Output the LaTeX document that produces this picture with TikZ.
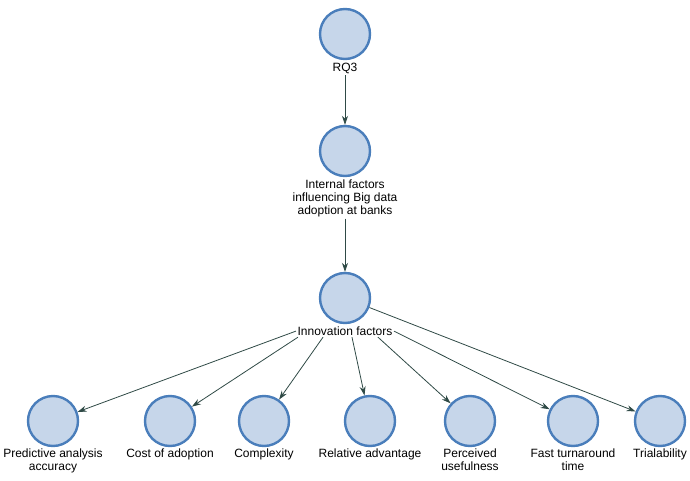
\documentclass[tikz,border=0pt]{standalone}
\usepackage{fontspec}
\setmainfont{Liberation Sans}
\usetikzlibrary{arrows.meta}
\definecolor{cfill}{HTML}{C6D6EA}
\definecolor{cedge}{HTML}{4A7EBB}
\definecolor{lcol}{HTML}{2F4A46}
\tikzset{
  bub/.style={circle, draw=cedge, fill=cfill, line width=2.4pt, minimum size=50pt, inner sep=0pt},
  lab/.style={font=\fontsize{12}{13}\selectfont, align=center, inner sep=1.5pt, anchor=north},
  conn/.style={draw=lcol, line width=0.8pt, -{Stealth[length=9pt,width=6pt]}}
}
\begin{document}
\begin{tikzpicture}[x=1pt,y=-1pt]
\useasboundingbox (0,0) rectangle (690,481);
\node[bub] (rq) at (345,34) {};
\node[lab] (rql) at (345,61) {RQ3};
\node[bub] (inf) at (345,151) {};
\node[lab] (infl) at (345,178) {Internal factors\\influencing Big data\\adoption at banks};
\node[bub] (inn) at (345,298) {};
\node[lab] (innl) at (345,325) {Innovation factors};

\node[bub] (c1) at (53,421) {};
\node[lab] (c1l) at (53,447) {Predictive analysis\\accuracy};
\node[bub] (c2) at (170,421) {};
\node[lab] (c2l) at (170,447) {Cost of adoption};
\node[bub] (c3) at (264,421) {};
\node[lab] (c3l) at (264,447) {Complexity};
\node[bub] (c4) at (370,421) {};
\node[lab] (c4l) at (370,447) {Relative advantage};
\node[bub] (c5) at (470,421) {};
\node[lab] (c5l) at (470,447) {Perceived\\usefulness};
\node[bub] (c6) at (573,421) {};
\node[lab] (c6l) at (573,447) {Fast turnaround\\time};
\node[bub] (c7) at (660,421) {};
\node[lab] (c7l) at (660,447) {Trialability};

\draw[conn] (rql) -- (inf);
\draw[conn] (infl) -- (inn);
\draw[conn] (innl.west) -- (c1);
\draw[conn] ([xshift=2pt]innl.south west) -- (c2);
\draw[conn] ([xshift=-22pt]innl.south) -- (c3);
\draw[conn] ([xshift=7pt]innl.south) -- (c4);
\draw[conn] ([xshift=33pt]innl.south) -- (c5);
\draw[conn] (innl.east) -- (c6);
\draw[conn] (inn) -- (c7);
\end{tikzpicture}
\end{document}
